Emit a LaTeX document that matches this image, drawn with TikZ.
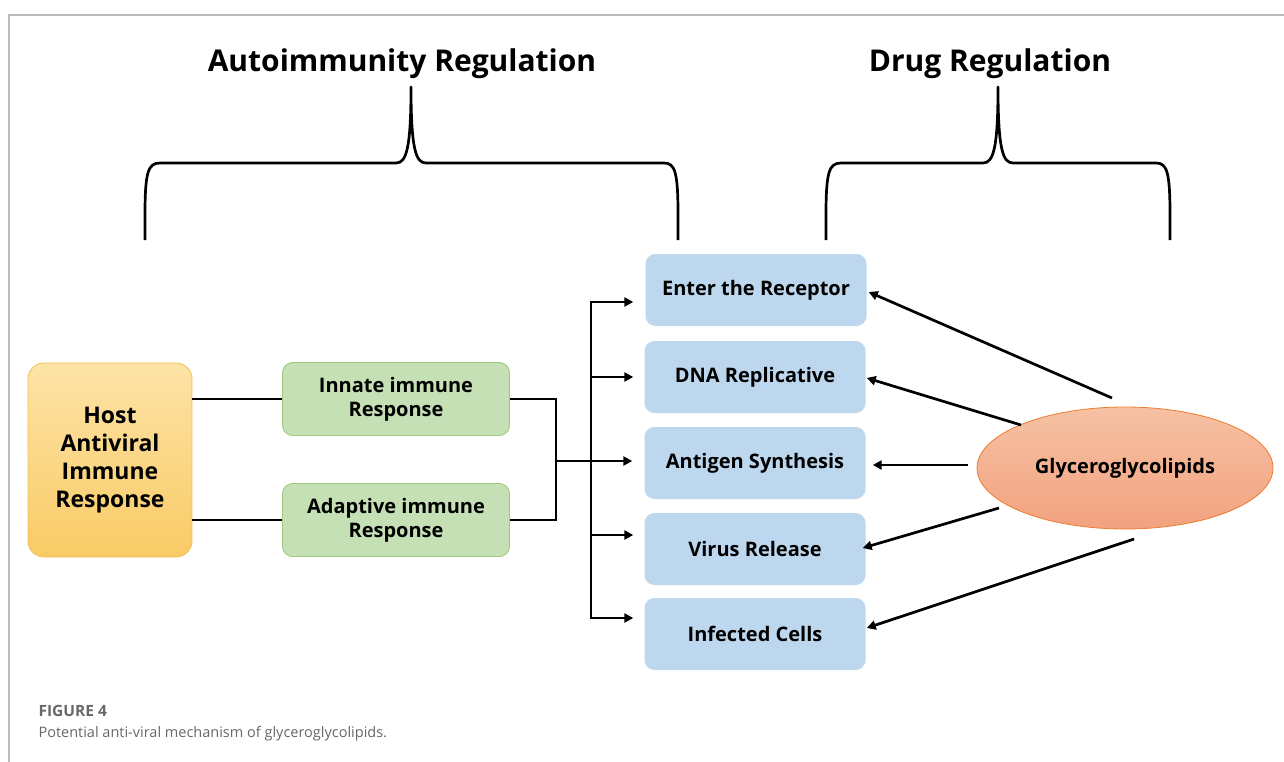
\documentclass[tikz,border=0pt]{standalone}
\usepackage{fontspec}
\setmainfont{Open Sans}
\usetikzlibrary{arrows.meta,calc,shapes.geometric}

\definecolor{hostTop}{HTML}{FDE3A7}
\definecolor{hostBot}{HTML}{F9CB66}
\definecolor{hostLine}{HTML}{F2C14E}
\definecolor{greenFill}{HTML}{C5E0B4}
\definecolor{greenLine}{HTML}{9CCB80}
\definecolor{blueFill}{HTML}{BDD7EE}
\definecolor{ellTop}{HTML}{F6C1A4}
\definecolor{ellBot}{HTML}{F2A27F}
\definecolor{ellLine}{HTML}{ED7D31}
\definecolor{frameGray}{HTML}{BBBBBB}
\definecolor{capGray}{HTML}{686868}

\tikzset{
  lbl/.style={font=\bfseries, align=center, text=black},
  hostbox/.style={lbl, rounded corners=16pt, draw=hostLine, line width=0.8pt,
    top color=hostTop, bottom color=hostBot, minimum width=164pt, minimum height=194pt,
    font=\bfseries\fontsize{23}{28}\selectfont},
  immbox/.style={lbl, rounded corners=10pt, draw=greenLine, line width=0.8pt, fill=greenFill,
    minimum width=227pt, minimum height=73pt, font=\bfseries\fontsize{20}{24}\selectfont},
  stagebox/.style={lbl, rounded corners=10pt, fill=blueFill, minimum width=221pt,
    minimum height=72pt, font=\bfseries\fontsize{20}{24}\selectfont},
  drugnode/.style={lbl, ellipse, draw=ellLine, line width=0.8pt, top color=ellTop,
    bottom color=ellBot, minimum width=296pt, minimum height=122pt, inner sep=0pt,
    font=\bfseries\fontsize{20}{24}\selectfont},
  heading/.style={lbl, font=\bfseries\fontsize{30}{36}\selectfont},
  wire/.style={line width=2.7pt, black},
  arr/.style={wire, -{Triangle[length=9pt,width=9pt]}},
  bracket/.style={line width=2.7pt, black, line join=round},
}

\begin{document}
\begin{tikzpicture}[x=1pt, y=-1pt]
\useasboundingbox (0,0) rectangle (1284,762);
\fill[white] (0,0) rectangle (1284,762);

% page frame
\draw[frameGray, line width=1.5pt] (9,762) -- (9,15) -- (1284,15);

% headings
\node[heading] (auto) at (402,64) {Autoimmunity Regulation};
\node[heading] (drug) at (990,64) {Drug Regulation};

% curly brackets under the headings
\draw[bracket] (145,240) -- (145,215) .. controls (145,172) and (148,163) .. (160,163)
  -- (396,163) .. controls (406,163) and (411,150) .. (411,87)
  .. controls (411,150) and (416,163) .. (426,163)
  -- (664,163) .. controls (675,163) and (678,172) .. (678,215) -- (678,240);
\draw[bracket] (826,240) -- (826,215) .. controls (826,172) and (829,163) .. (841,163)
  -- (983,163) .. controls (993,163) and (998,150) .. (998,87)
  .. controls (998,150) and (1003,163) .. (1013,163)
  -- (1156,163) .. controls (1167,163) and (1170,172) .. (1170,215) -- (1170,240);

% host response
\node[hostbox] (host) at (110,460) {Host\\Antiviral\\Immune\\Response};
\node[immbox] (innate) at (396,399) {Innate immune\\Response};
\node[immbox] (adaptive) at (396,520) {Adaptive immune\\Response};

% viral stages
\node[stagebox] (enter) at (756,290) {Enter the Receptor};
\node[stagebox] (dna) at (755,377) {DNA Replicative};
\node[stagebox] (antigen) at (755,463) {Antigen Synthesis};
\node[stagebox] (release) at (755,549) {Virus Release};
\node[stagebox] (infected) at (755,634) {Infected Cells};

% glyceroglycolipids
\node[drugnode] (glyco) at (1125,468) {Glyceroglycolipids};

% host to immune branches
\draw[wire] (host.east |- innate.west) -- (innate.west);
\draw[wire] (host.east |- adaptive.west) -- (adaptive.west);

% merge of the two branches
\coordinate (merge) at (556,461);
\draw[wire, line join=miter] (innate.east) -| (merge) |- (adaptive.east);
\draw[arr, shorten >=12pt] (merge) -- (merge -| antigen.west);

% distribution bus
\coordinate (busTop) at (591,302);
\coordinate (busMid) at (591,535);
\coordinate (busBot) at (591,618);
\draw[wire, line cap=rect] (busTop) -- (busBot);
\draw[arr, shorten >=12pt] (busTop) -- (busTop -| enter.west);
\draw[arr, shorten >=11pt] (busTop |- dna.west) -- (dna.west);
\draw[arr, shorten >=11pt] (busMid) -- (busMid -| release.west);
\draw[arr, shorten >=11pt] (busBot) -- (busBot -| infected.west);

% drug actions
\draw[arr] ($(glyco.center)+(-13,-70)$) -- ($(enter.east)+(2,2)$);
\draw[arr] ($(glyco.center)+(-104,-43)$) -- ($(dna.east)+(1,1)$);
\draw[arr] ($(glyco.center)+(-157,-3)$) -- ($(antigen.east)+(7,2)$);
\draw[arr] ($(glyco.center)+(-126,40)$) -- ($(release.east)+(-3,-1)$);
\draw[arr] ($(glyco.center)+(9,71)$) -- ($(infected.east)+(1,-6)$);

% caption
\node[anchor=west, text=capGray, font=\bfseries\fontsize{15.5}{19}\selectfont] (fig) at (35,711) {FIGURE 4};
\node[anchor=west, text=capGray, font=\fontsize{14.5}{18}\selectfont] (cap) at (35,734)
  {Potential anti-viral mechanism of glyceroglycolipids.};
\end{tikzpicture}
\end{document}
